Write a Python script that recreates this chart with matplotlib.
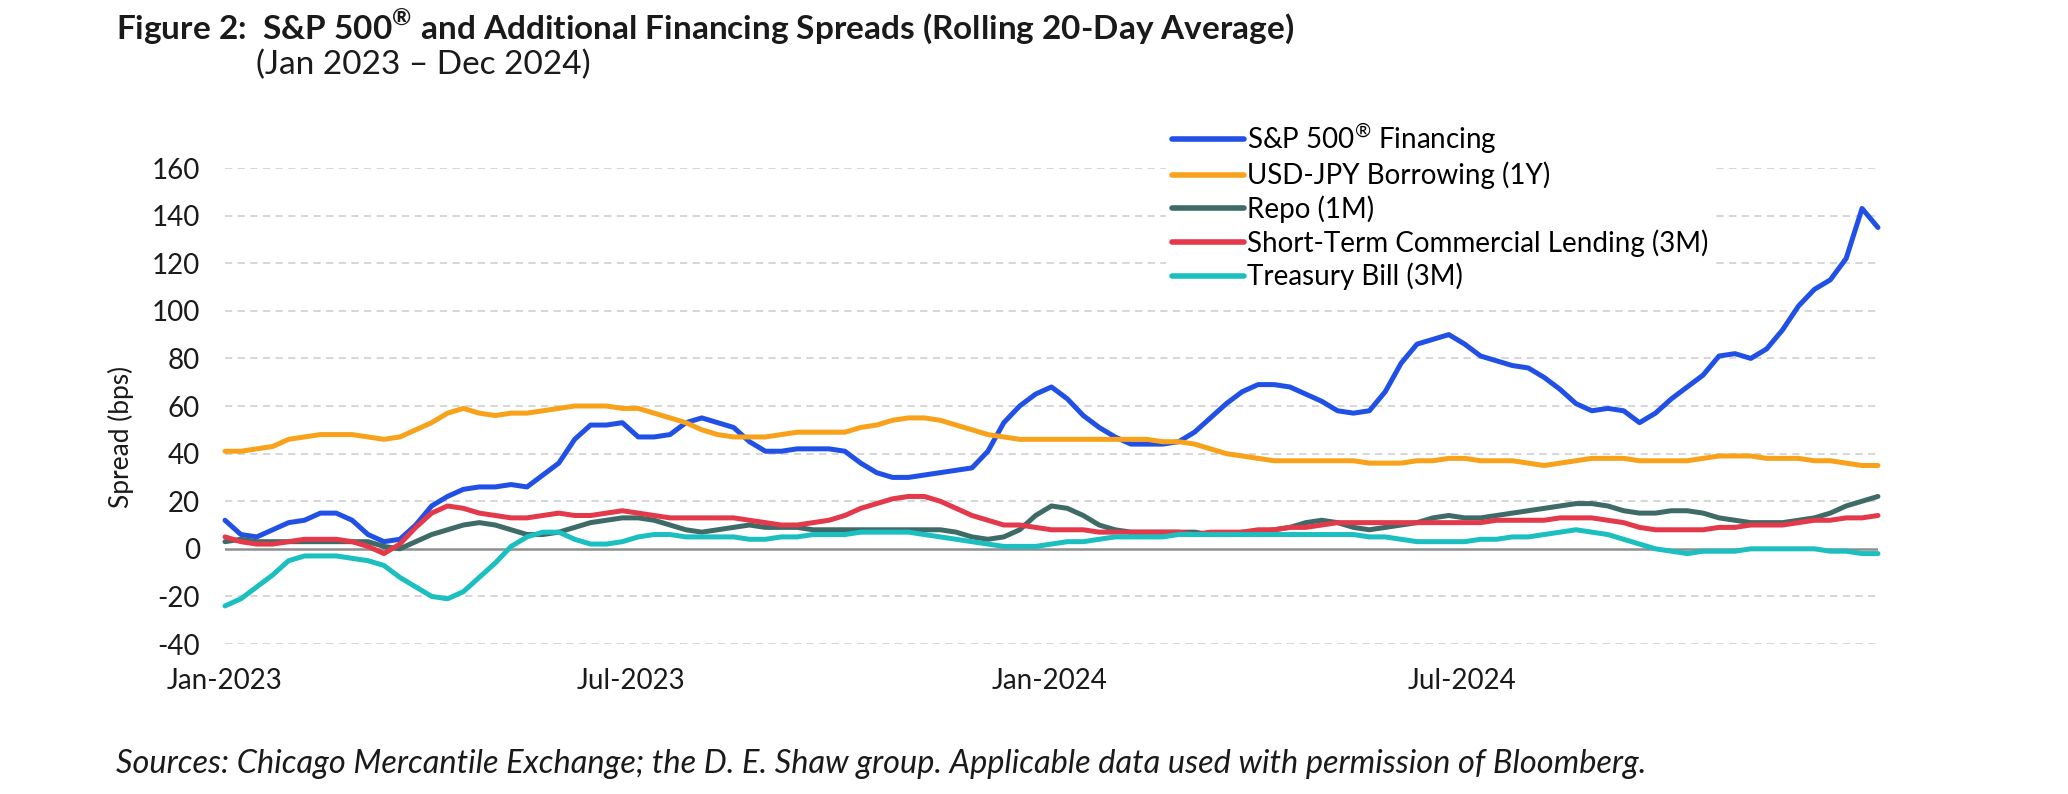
import numpy as np
import pandas as pd
import matplotlib
matplotlib.use("Agg")
import matplotlib.pyplot as plt

plt.rcParams["font.family"] = ["Lato", "DejaVu Sans"]
plt.rcParams["mathtext.fontset"] = "custom"
plt.rcParams["mathtext.rm"] = "Lato"
plt.rcParams["mathtext.bf"] = "Lato:bold"

weeks = pd.date_range("2023-01-03", "2024-12-31", freq="7D")

sp500 = [12, 6, 5, 8, 11, 12, 15, 15, 12, 6, 3, 4, 10, 18, 22, 25, 26, 26, 27, 26,
         31, 36, 46, 52, 52, 53, 47, 47, 48, 53, 55, 53, 51, 45, 41, 41, 42, 42, 42, 41,
         36, 32, 30, 30, 31, 32, 33, 34, 41, 53, 60, 65, 68, 63, 56, 51, 47, 44, 44, 44,
         45, 49, 55, 61, 66, 69, 69, 68, 65, 62, 58, 57, 58, 66, 78, 86, 88, 90, 86, 81,
         79, 77, 76, 72, 67, 61, 58, 59, 58, 53, 57, 63, 68, 73, 81, 82, 80, 84, 92, 102,
         109, 113, 122, 143, 135]
usdjpy = [41, 41, 42, 43, 46, 47, 48, 48, 48, 47, 46, 47, 50, 53, 57, 59, 57, 56, 57, 57,
          58, 59, 60, 60, 60, 59, 59, 57, 55, 53, 50, 48, 47, 47, 47, 48, 49, 49, 49, 49,
          51, 52, 54, 55, 55, 54, 52, 50, 48, 47, 46, 46, 46, 46, 46, 46, 46, 46, 46, 45,
          45, 44, 42, 40, 39, 38, 37, 37, 37, 37, 37, 37, 36, 36, 36, 37, 37, 38, 38, 37,
          37, 37, 36, 35, 36, 37, 38, 38, 38, 37, 37, 37, 37, 38, 39, 39, 39, 38, 38, 38,
          37, 37, 36, 35, 35]
repo = [3, 4, 3, 3, 3, 3, 3, 3, 3, 3, 1, 0, 3, 6, 8, 10, 11, 10, 8, 6,
        6, 7, 9, 11, 12, 13, 13, 12, 10, 8, 7, 8, 9, 10, 9, 9, 9, 8, 8, 8,
        8, 8, 8, 8, 8, 8, 7, 5, 4, 5, 8, 14, 18, 17, 14, 10, 8, 7, 7, 7,
        7, 7, 6, 6, 7, 7, 8, 9, 11, 12, 11, 9, 8, 9, 10, 11, 13, 14, 13, 13,
        14, 15, 16, 17, 18, 19, 19, 18, 16, 15, 15, 16, 16, 15, 13, 12, 11, 11, 11, 12,
        13, 15, 18, 20, 22]
commercial = [5, 3, 2, 2, 3, 4, 4, 4, 3, 1, -2, 2, 9, 15, 18, 17, 15, 14, 13, 13,
              14, 15, 14, 14, 15, 16, 15, 14, 13, 13, 13, 13, 13, 12, 11, 10, 10, 11, 12, 14,
              17, 19, 21, 22, 22, 20, 17, 14, 12, 10, 10, 9, 8, 8, 8, 7, 7, 7, 7, 7,
              7, 6, 7, 7, 7, 8, 8, 9, 9, 10, 11, 11, 11, 11, 11, 11, 11, 11, 11, 11,
              12, 12, 12, 12, 13, 13, 13, 12, 11, 9, 8, 8, 8, 8, 9, 9, 10, 10, 10, 11,
              12, 12, 13, 13, 14]
tbill = [-24, -21, -16, -11, -5, -3, -3, -3, -4, -5, -7, -12, -16, -20, -21, -18, -12, -6, 1, 5,
         7, 7, 4, 2, 2, 3, 5, 6, 6, 5, 5, 5, 5, 4, 4, 5, 5, 6, 6, 6,
         7, 7, 7, 7, 6, 5, 4, 3, 2, 1, 1, 1, 2, 3, 3, 4, 5, 5, 5, 5,
         6, 6, 6, 6, 6, 6, 6, 6, 6, 6, 6, 6, 5, 5, 4, 3, 3, 3, 3, 4,
         4, 5, 5, 6, 7, 8, 7, 6, 4, 2, 0, -1, -2, -1, -1, -1, 0, 0, 0, 0,
         0, -1, -1, -2, -2]

series_names = ["S&P 500$^{\\mathregular{®}}$ Financing", "USD-JPY Borrowing (1Y)", "Repo (1M)",
                "Short-Term Commercial Lending (3M)", "Treasury Bill (3M)"]
series_values = [sp500, usdjpy, repo, commercial, tbill]
colors = ["#2150E6", "#F8A21C", "#3E6B68", "#E3394A", "#1CBFBF"]

y_ticks = [-40, -20, 0, 20, 40, 60, 80, 100, 120, 140, 160]
x_ticks = ["2023-01-03", "2023-07-01", "2024-01-01", "2024-07-01"]
x_tick_labels = ["Jan-2023", "Jul-2023", "Jan-2024", "Jul-2024"]

fig = plt.figure(figsize=(20.68, 7.94), dpi=100)
ax = fig.add_axes([0.1088, 0.1889, 0.7993, 0.5995])

for y in y_ticks:
    if y != 0:
        ax.axhline(y, color="#D3D3D3", lw=1.3, ls=(0, (4, 3)), zorder=1)
ax.axhline(0, color="#8E8E8E", lw=1.8, zorder=2)

for name, vals, c in zip(series_names, series_values, colors):
    ax.plot(weeks, vals, color=c, lw=3.6, label=name, zorder=3,
            solid_capstyle="round", solid_joinstyle="round", clip_on=False)

ax.set_xlim(weeks[0], weeks[-1])
ax.set_ylim(-40, 160)
ax.set_yticks(y_ticks)
ax.set_yticklabels([str(v) for v in y_ticks])
ax.set_xticks(pd.to_datetime(x_ticks))
ax.set_xticklabels(x_tick_labels)
ax.tick_params(axis="both", length=0, labelsize=20, colors="#1A1A1A")
ax.tick_params(axis="y", pad=18)
ax.tick_params(axis="x", pad=17)
for s in ax.spines.values():
    s.set_visible(False)

ax.set_ylabel("Spread (bps)", fontsize=19, color="#1A1A1A")
ax.yaxis.set_label_coords(-0.055, 0.435)

leg = ax.legend(loc="upper left", bbox_to_anchor=(0.564, 0.855), bbox_transform=fig.transFigure,
                fontsize=20, frameon=True, facecolor="white", edgecolor="none", framealpha=1,
                handlelength=2.6, handletextpad=0.12, labelspacing=0.22, borderpad=0.2,
                borderaxespad=0)
for line in leg.get_lines():
    line.set_linewidth(4)
leg.set_zorder(5)

fig.text(0.056, 0.966, "Figure 2:  S&P 500$^{\\mathregular{®}}$ and Additional Financing Spreads (Rolling 20-Day Average)",
         fontsize=24, fontweight="bold", color="#1A1A1A", va="center", ha="left")
fig.text(0.124, 0.918, "(Jan 2023 \u2013 Dec 2024)", fontsize=24,
         color="#1A1A1A", va="center", ha="left")
fig.text(0.056, 0.038, "Sources: Chicago Mercantile Exchange; the D. E. Shaw group. "
         "Applicable data used with permission of Bloomberg.",
         fontsize=23.4, style="italic", color="#1A1A1A", va="center", ha="left")

fig.savefig("out.png", dpi=100)
